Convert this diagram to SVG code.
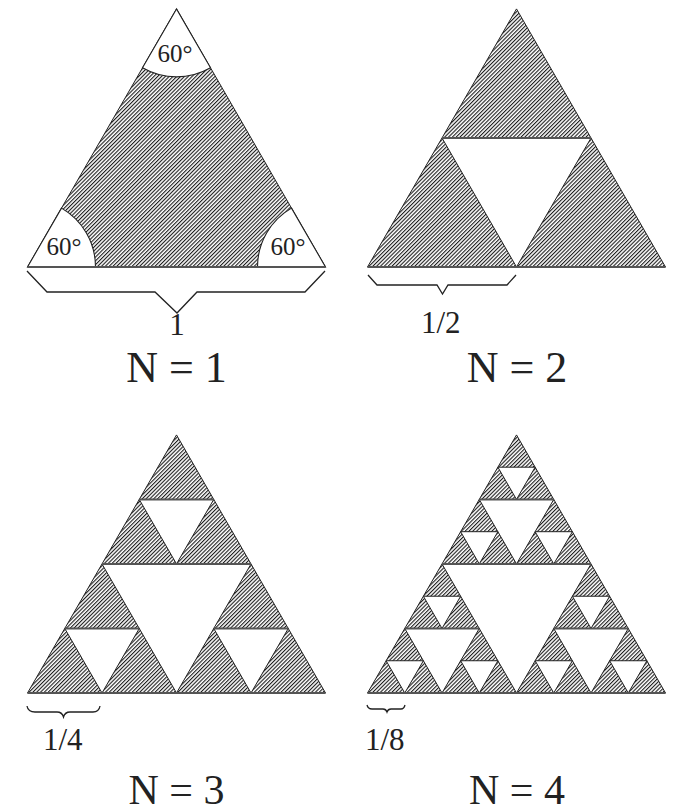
<svg xmlns="http://www.w3.org/2000/svg" xmlns:xlink="http://www.w3.org/1999/xlink" width="684" height="812" viewBox="0 0 684 812">
<defs>
<pattern id="hatch" width="2.7" height="2.7" patternUnits="userSpaceOnUse" patternTransform="rotate(45)">
<rect width="1.1" height="2.7" fill="#1a1a1a"/>
</pattern>
</defs>
<style>
.tri{fill:url(#hatch);stroke:#222;stroke-width:1}
.hole{fill:#fff;stroke:#222;stroke-width:1}
.sector{fill:#fff;stroke:#222;stroke-width:1.1}
.hz{stroke:#555;stroke-width:2;fill:none}
.brace{fill:none;stroke:#222;stroke-width:1.3;stroke-linejoin:miter}
.lbl{font-family:"Liberation Serif","Times New Roman",serif;fill:#222}
.deg{font-size:25px;text-anchor:middle}
.frac{font-size:31px}
.cap{font-size:44px;text-anchor:middle}
.capb{font-size:42px;text-anchor:middle}
</style>
<rect width="684" height="812" fill="#fff"/>

<g id="fig-n1">
<g transform="translate(27.5,267)">
<polygon class="tri" points="0,0 298,0 149,-258.08"/>
<path class="sector" d="M149,-258.08 L115,-199.19 A68,68 0 0 0 183,-199.19 Z"/>
<path class="sector" d="M0,0 L68,0 A68,68 0 0 0 34,-58.89 Z"/>
<path class="sector" d="M298,0 L230,0 A68,68 0 0 1 264,-58.89 Z"/>
<line class="hz" x1="0" y1="0" x2="298" y2="0"/>
</g>
<text class="lbl deg" x="175" y="62">60°</text>
<text class="lbl deg" x="64" y="255">60°</text>
<text class="lbl deg" x="288" y="255">60°</text>
<polyline class="brace" points="27,271 47,292 155,292 177,313 197,292 305,292 325,271"/>
<text class="lbl frac" x="177" y="335" text-anchor="middle">1</text>
<text class="lbl cap" x="176.5" y="382">N = 1</text>
</g>

<g id="fig-n2">
<g transform="translate(367.5,267)">
<polygon class="tri" points="0,0 298,0 149,-258.08"/>
<polygon class="hole" points="74.5,-129.04 223.5,-129.04 149,0"/>
<line class="hz" x1="74.5" y1="-129.04" x2="223.5" y2="-129.04"/>
<line class="hz" x1="0" y1="0" x2="298" y2="0"/>
</g>
<polyline class="brace" points="368,275 377,285 437,285 442.5,294 448,285 507,285 516,275"/>
<text class="lbl frac" x="421" y="333">1/2</text>
<text class="lbl cap" x="517" y="382">N = 2</text>
</g>

<g id="fig-n3">
<g transform="translate(27.5,693)">
<polygon class="tri" points="0,0 298,0 149,-258.08"/>
<polygon class="hole" points="74.5,-129.04 223.5,-129.04 149,0"/>
<polygon class="hole" points="37.25,-64.52 111.75,-64.52 74.5,0"/>
<polygon class="hole" points="186.25,-64.52 260.75,-64.52 223.5,0"/>
<polygon class="hole" points="111.75,-193.56 186.25,-193.56 149,-129.04"/>
<line class="hz" x1="74.5" y1="-129.04" x2="223.5" y2="-129.04"/>
<line class="hz" x1="37.25" y1="-64.52" x2="111.75" y2="-64.52"/>
<line class="hz" x1="186.25" y1="-64.52" x2="260.75" y2="-64.52"/>
<line class="hz" x1="111.75" y1="-193.56" x2="186.25" y2="-193.56"/>
<line class="hz" x1="0" y1="0" x2="298" y2="0"/>
</g>
<path class="brace" d="M27,706 Q28,712 35,712 L57,712 Q62,712 63.5,717 Q65,712 70,712 L93,712 Q99,712 100,706"/>
<text class="lbl frac" x="43" y="750">1/4</text>
<text class="lbl capb" x="176.5" y="804">N = 3</text>
</g>

<g id="fig-n4">
<g transform="translate(367.5,693)">
<polygon class="tri" points="0,0 298,0 149,-258.08"/>
<polygon class="hole" points="74.5,-129.04 223.5,-129.04 149,0"/>
<polygon class="hole" points="37.25,-64.52 111.75,-64.52 74.5,0"/>
<polygon class="hole" points="186.25,-64.52 260.75,-64.52 223.5,0"/>
<polygon class="hole" points="111.75,-193.56 186.25,-193.56 149,-129.04"/>
<polygon class="hole" points="18.625,-32.26 55.875,-32.26 37.25,0"/>
<polygon class="hole" points="93.125,-32.26 130.375,-32.26 111.75,0"/>
<polygon class="hole" points="55.875,-96.78 93.125,-96.78 74.5,-64.52"/>
<polygon class="hole" points="167.625,-32.26 204.875,-32.26 186.25,0"/>
<polygon class="hole" points="242.125,-32.26 279.375,-32.26 260.75,0"/>
<polygon class="hole" points="204.875,-96.78 242.125,-96.78 223.5,-64.52"/>
<polygon class="hole" points="93.125,-161.3 130.375,-161.3 111.75,-129.04"/>
<polygon class="hole" points="167.625,-161.3 204.875,-161.3 186.25,-129.04"/>
<polygon class="hole" points="130.375,-225.82 167.625,-225.82 149,-193.56"/>
<line class="hz" x1="74.5" y1="-129.04" x2="223.5" y2="-129.04"/>
<line class="hz" x1="37.25" y1="-64.52" x2="111.75" y2="-64.52"/>
<line class="hz" x1="186.25" y1="-64.52" x2="260.75" y2="-64.52"/>
<line class="hz" x1="111.75" y1="-193.56" x2="186.25" y2="-193.56"/>
<line class="hz" x1="0" y1="0" x2="298" y2="0"/>
</g>
<path class="brace" d="M367,705 Q368,709 372,709 L383,709 Q386,709 387,712 Q388,709 391,709 L401,709 Q404,709 405,705"/>
<text class="lbl frac" x="365" y="750">1/8</text>
<text class="lbl capb" x="517" y="804">N = 4</text>
</g>
</svg>
